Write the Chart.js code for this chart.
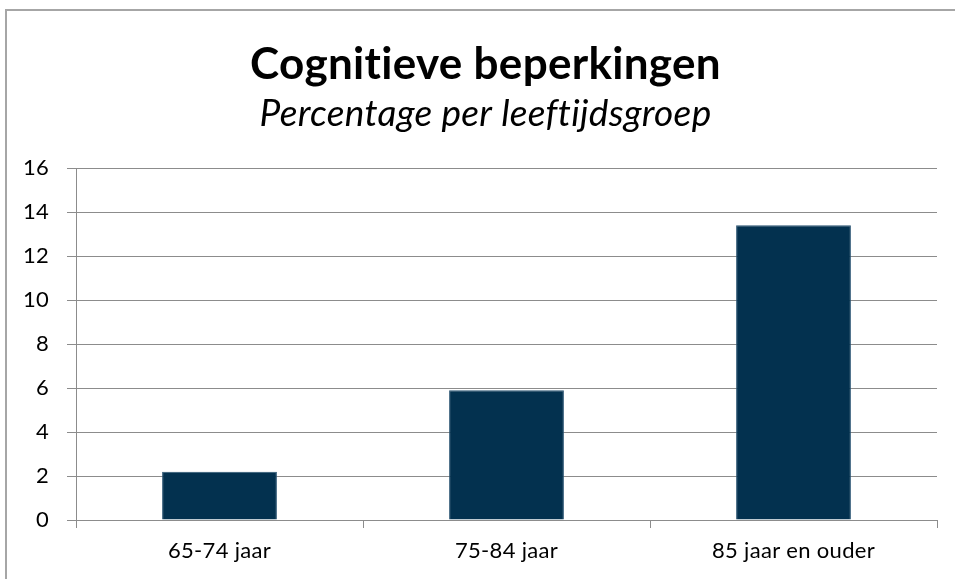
<!DOCTYPE html>
<html>
<head>
<meta charset="utf-8">
<script src="https://cdn.jsdelivr.net/npm/chart.js@4/dist/chart.umd.min.js"></script>
<style>
  html, body { margin: 0; padding: 0; background: #fff; }
  #wrap { position: relative; width: 955px; height: 579px; }
  #rand {
    position: absolute; left: 5px; top: 9px; right: -5px; bottom: -5px;
    border-left: 2px solid #a6a6a6; border-top: 2px solid #a6a6a6;
    pointer-events: none;
  }
</style>
</head>
<body>
<div id="wrap">
  <canvas id="grafiek" width="955" height="579"></canvas>
  <div id="rand"></div>
</div>
<script>
// Gegevens uit de grafiek
const categorieen = ['65-74 jaar', '75-84 jaar', '85 jaar en ouder'];
const percentages = [2.2, 5.9, 13.4];
const yTicks = [0, 2, 4, 6, 8, 10, 12, 14, 16];

const lettertype = 'Lato, "Open Sans", sans-serif';
const grijs = '#8c8c8c';

// Kleine letterafstand zodat "ti" niet als ligatuur getekend wordt
const geenLigaturen = {
    id: 'geenLigaturen',
    beforeDraw: function (chart) {
        if ('letterSpacing' in chart.ctx) chart.ctx.letterSpacing = '0.3px';
    }
};

// Titel en subtitel iets naar rechts, zoals in het origineel
const titelVerschuiving = {
    id: 'titelVerschuiving',
    afterLayout: function (chart) {
        chart.boxes.forEach(function (box) {
            if (box.options && box.options.text !== undefined) {
                box.left += 17;
                box.right += 17;
            }
        });
    }
};

new Chart(document.getElementById('grafiek'), {
    type: 'bar',
    data: {
        labels: categorieen,
        datasets: [{
            label: 'Percentage',
            data: percentages,
            backgroundColor: '#03314f',
            borderColor: '#2a5472',
            borderWidth: 1,
            barPercentage: 0.4,
            categoryPercentage: 1
        }]
    },
    plugins: [geenLigaturen, titelVerschuiving],
    options: {
        responsive: false,
        animation: false,
        layout: { padding: { left: 0, right: 18, top: 0, bottom: 0 } },
        plugins: {
            legend: { display: false },
            tooltip: { enabled: false },
            title: {
                display: true,
                text: 'Cognitieve beperkingen',
                color: '#000',
                font: { family: lettertype, size: 44, weight: 'bold', lineHeight: 1.2 },
                padding: { top: 38, bottom: 0 }
            },
            subtitle: {
                display: true,
                text: 'Percentage per leeftijdsgroep',
                color: '#000',
                font: { family: lettertype, size: 37, style: 'italic', lineHeight: 1.2 },
                padding: { top: 1, bottom: 32 }
            }
        },
        scales: {
            x: {
                grid: {
                    offset: true,
                    drawOnChartArea: false,
                    drawTicks: true,
                    tickLength: 8,
                    color: grijs,
                    lineWidth: 1
                },
                border: { color: grijs, width: 1 },
                ticks: {
                    color: '#000',
                    font: { family: lettertype, size: 22 },
                    padding: 10
                },
                afterFit: function (schaal) { schaal.height = 59; }
            },
            y: {
                min: 0,
                max: 16,
                afterBuildTicks: function (schaal) {
                    schaal.ticks = yTicks.map(v => ({ value: v }));
                },
                grid: {
                    color: grijs,
                    lineWidth: 1,
                    drawTicks: true,
                    tickLength: 9
                },
                border: { color: grijs, width: 1 },
                ticks: {
                    color: '#000',
                    font: { family: lettertype, size: 22 },
                    padding: 18
                },
                afterFit: function (schaal) { schaal.width = 76; }
            }
        }
    }
});
</script>
</body>
</html>
